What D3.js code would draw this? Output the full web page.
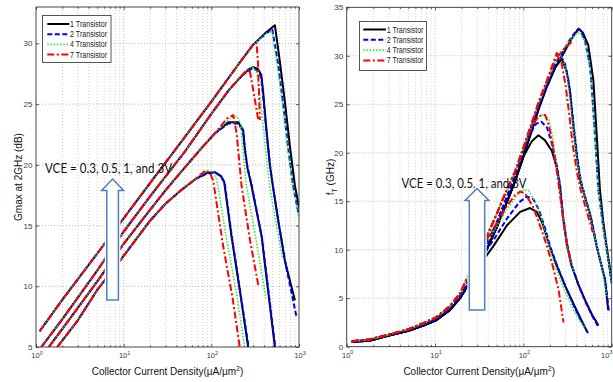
<!DOCTYPE html>
<html><head><meta charset="utf-8">
<script src="https://cdn.jsdelivr.net/npm/d3@7"></script>
<style>body{margin:0;background:#fff}svg{display:block}</style>
</head><body>
<svg id="c" width="613" height="382"></svg>
<script>
// ---------------- DATA ----------------
const transistors = ["1 Transistor","2 Transistor","4 Transistor","7 Transistor"];
const vceLevels = ["0.3","0.5","1","3"];
const xTicks = [1,10,100,1000];
const gmaxTicks = [5,10,15,20,25,30];
const ftTicks = [0,5,10,15,20,25,30,35];

// Gmax at 2GHz (dB) vs J (uA/um^2): shared rising part per VCE, then tail per transistor count
const gmaxRiseA = [[1.75,5.0],[3,7.2],[5,9.7],[10,12.5],[20,15.4],[30,16.8],[45,17.9],[65,18.8]];
const gmaxA1 = [[90,19.35],[110,19.4],[128,19.1],[140,18.6],[170,14.1],[211,9.7],[263,5.0],[272,4.4]];
const gmaxA2 = [[90,19.3],[112,19.35],[130,19.0],[142,18.5],[172,14.0],[213,9.6],[266,5.0],[275,4.4]];
const gmaxA4 = [[88,19.5],[105,19.45],[116,18.7],[150,13.8],[195,9.3],[240,5.0],[248,4.4]];
const gmaxA7 = [[86,19.55],[97,19.3],[105,18.7],[135,13.5],[175,9.0],[211,5.0],[218,4.4]];

const gmaxRiseB = [[1.4,5.0],[2,6.5],[5,10.4],[10,13.5],[20,16.3],[30,17.9],[50,19.8],[80,21.5],[110,22.6]];
const gmaxB1 = [[156,23.5],[203,23.5],[231,22.85],[241,21.3],[259,19.7],[285,18.4],[375,14.1],[443,9.7],[531,5.0],[548,4.4]];
const gmaxB2 = [[156,23.4],[200,23.4],[228,22.9],[240,21.5],[258,19.8],[287,18.4],[378,14.0],[448,9.6],[536,5.0],[552,4.4]];
const gmaxB4 = [[160,23.8],[195,24.0],[215,23.4],[228,21.5],[250,18.4],[330,13.5],[420,9.0]];
const gmaxB7 = [[150,23.8],[178,24.1],[195,22.5],[221,18.3],[276,13.8],[343,10.1]];

const gmaxRiseC = [[1.15,5.0],[2,7.3],[5,11.3],[10,14.5],[20,17.4],[50,21.1],[100,24.2],[160,26.2],[220,27.3]];
const gmaxC1 = [[270,27.9],[300,28.05],[340,27.9],[372,27.4],[390,26.0],[428,22.7],[465,20.0],[500,18.4],[580,15.4],[690,12.1],[898,8.85]];
const gmaxC2 = [[270,27.8],[300,27.95],[345,27.7],[370,27.2],[390,25.6],[430,22.4],[470,19.8],[505,18.2],[590,15.1],[710,11.7],[935,7.5]];
const gmaxC4 = [[265,27.9],[290,28.1],[330,27.6],[360,25.5],[400,22.5],[440,19.5],[480,17.5],[560,14.8],[650,12.3]];
const gmaxC7 = [[250,27.8],[272,27.9],[300,26.2],[343,23.7]];

const gmaxRiseD = [[1.1,6.3],[2,8.9],[5,12.7],[10,15.6],[20,18.5],[50,22.3],[100,25.2],[200,28.2],[300,29.9]];
const gmaxD1 = [[420,30.9],[531,31.5],[605,28.5],[690,25.2],[786,21.6],[898,18.3],[1000,16.5]];
const gmaxD2 = [[420,30.8],[495,31.2],[578,28.3],[660,25.0],[750,21.5],[855,18.3],[1000,15.8]];
const gmaxD4 = [[420,30.8],[490,31.0],[570,28.0],[650,25.0],[740,21.5],[845,18.3],[1000,15.6]];
const gmaxD7 = [[328,30.0],[340,28.5],[358,23.7]];

// fT (GHz): low-current part (all VCE overlap), then upper part per VCE / transistor count
const ftLowBlack = [[1.14,0.5],[1.8,0.62],[3,1.15],[5,1.65],[7.5,2.2],[10.4,2.75],[14.8,3.8],[19.2,5.0],[23.8,6.4]];
const ftLowBlue  = [[1.14,0.52],[1.8,0.7],[3,1.2],[5,1.72],[7.5,2.3],[10.4,2.9],[14.8,4.0],[19.2,5.2],[23.8,6.8]];
const ftLowColor = [[1.14,0.55],[1.8,0.75],[3,1.25],[5,1.8],[7.5,2.45],[10.4,3.05],[14.8,4.2],[19.2,5.5],[23.8,7.3]];

const ftA1 = [[35,8.9],[46,10.4],[65,12.5],[92,13.9],[119,14.3],[142,13.9],[165,12.7],[200,10.2],[240,8.3],[300,6.2],[370,4.4],[450,2.8],[530,1.5]];
const ftA2 = [[35,9.5],[46,11.0],[65,13.2],[90,14.9],[110,15.5],[130,15.2],[150,14.1],[175,12.3],[200,10.4],[240,8.4],[300,6.2],[370,4.3],[450,2.7],[540,1.4]];
const ftA4 = [[35,10.2],[46,11.8],[65,14.2],[85,15.6],[100,16.2],[115,16.1],[135,15.0],[160,13.2],[190,10.8],[230,8.2],[290,5.9],[360,4.0],[430,2.7],[500,1.9]];
const ftA7 = [[35,10.5],[46,12.2],[65,14.5],[80,15.6],[92,16.0],[105,15.8],[129,14.4],[150,12.8],[170,11.4],[210,8.7],[250,5.9],[285,2.5]];

const ftBundleBlack = [[35,9.2],[50,12.3],[65,14.9],[80,17.0],[100,19.6]];
const ftBundleBlue  = [[35,9.8],[50,12.8],[65,15.4],[80,17.6],[100,20.2]];
const ftBundleColor = [[35,10.5],[50,13.7],[65,16.2],[80,18.0],[100,20.5]];

const ftB1 = [[125,21.2],[148,21.8],[175,21.3],[210,20.2],[240,18.4],[260,16.5],[282,13.2],[310,10.6],[353,8.3],[420,6.4],[500,4.8],[600,3.3],[707,2.2]];
const ftB2 = [[120,22.0],[140,23.0],[160,23.2],[185,22.6],[210,21.0],[240,18.6],[260,16.7],[282,13.4],[310,10.8],[353,8.4],[420,6.4],[500,4.7],[600,3.2],[700,2.1]];
const ftB4 = [[125,22.8],[150,23.7],[175,24.0],[195,23.4],[215,21.6],[240,18.5],[262,15.6],[290,12.2],[320,10.0],[380,7.5]];
const ftB7 = [[125,22.8],[150,23.8],[176,23.9],[195,22.8],[215,20.8],[240,18.0],[262,15.4],[290,12.3],[320,10.0],[350,8.3]];

const ftC1 = [[150,24.6],[184,26.8],[230,28.8],[272,29.7],[309,28.4],[338,26.3],[366,22.9],[401,19.8],[440,17.2],[500,15.4],[570,13.6],[677,10.3],[840,6.9],[912,3.8]];
const ftC2 = [[150,24.9],[184,27.0],[230,29.1],[262,30.0],[292,29.4],[322,27.6],[348,25.2],[375,22.4],[410,19.4],[450,17.0],[510,15.2],[580,13.4],[690,10.1],[850,6.7],[930,3.6]];
const ftC4 = [[150,25.2],[184,27.3],[230,29.5],[255,30.3],[285,29.6],[315,27.6],[345,24.6],[380,21.2],[420,18.4],[470,16.4],[540,14.3],[640,11.4],[780,8.0],[880,5.2]];
const ftC7 = [[150,25.3],[184,27.4],[239,30.3],[270,29.3],[300,27.0],[330,24.0],[360,21.0],[400,18.2],[450,16.0],[520,14.0],[610,11.8]];

const ftD1 = [[150,24.6],[184,26.8],[230,28.8],[272,29.9],[338,31.5],[420,32.8],[470,32.4],[543,31.1],[620,27.5],[675,22.0],[735,16.2],[800,13.0],[877,10.3],[1000,6.9]];
const ftD2 = [[150,24.9],[184,27.0],[230,29.1],[280,30.4],[338,31.7],[400,32.6],[440,32.7],[500,31.5],[570,28.9],[620,24.4],[707,16.2],[800,12.4],[877,10.0],[1000,6.5]];
const ftD4 = [[150,25.2],[184,27.3],[230,29.5],[280,30.6],[338,31.6],[400,32.3],[440,32.4],[500,31.3],[570,28.7],[620,24.2],[707,16.2],[800,12.3],[877,10.0],[1000,6.5]];
const ftD7 = [[150,25.3],[184,27.4],[230,29.6],[280,30.6],[330,31.2],[366,31.5]];

// ---------------- ASSEMBLY ----------------
const gmaxSeries = [
  [gmaxRiseA.concat(gmaxA1), gmaxRiseB.concat(gmaxB1), gmaxRiseC.concat(gmaxC1), gmaxRiseD.concat(gmaxD1)],
  [gmaxRiseA.concat(gmaxA2), gmaxRiseB.concat(gmaxB2), gmaxRiseC.concat(gmaxC2), gmaxRiseD.concat(gmaxD2)],
  [gmaxRiseA.concat(gmaxA4), gmaxRiseB.concat(gmaxB4), gmaxRiseC.concat(gmaxC4), gmaxRiseD.concat(gmaxD4)],
  [gmaxRiseA.concat(gmaxA7), gmaxRiseB.concat(gmaxB7), gmaxRiseC.concat(gmaxC7), gmaxRiseD.concat(gmaxD7)]
];
const ftSeries = [
  [ftLowBlack.concat(ftA1), ftLowBlack.concat(ftBundleBlack, ftB1), ftLowBlack.concat(ftBundleBlack, ftC1), ftLowBlack.concat(ftBundleBlack, ftD1)],
  [ftLowBlue.concat(ftA2),  ftLowBlue.concat(ftBundleBlue, ftB2),   ftLowBlue.concat(ftBundleBlue, ftC2),   ftLowBlue.concat(ftBundleBlue, ftD2)],
  [ftLowColor.concat(ftA4), ftLowColor.concat(ftBundleColor, ftB4), ftLowColor.concat(ftBundleColor, ftC4), ftLowColor.concat(ftBundleColor, ftD4)],
  [ftLowColor.concat(ftA7), ftLowColor.concat(ftBundleColor, ftB7), ftLowColor.concat(ftBundleColor, ftC7), ftLowColor.concat(ftBundleColor, ftD7)]
];

// ---------------- STYLE ----------------
const colors = ["#000000","#0000ff","#22ee22","#ff0000"];
const dashes = [null,"5,2.5","1.4,1.8","7,2.5,2,2.5"];
const widths = [2,2,1.6,2];
const tickFont = "'Liberation Sans Narrow','Liberation Sans',Arial,sans-serif";
const labFont = "'Liberation Sans',Arial,sans-serif";

const svg = d3.select('#c');

function drawPanel(o){
  const x = d3.scaleLog().domain([1,1000]).range([o.x0,o.x1]);
  const y = d3.scaleLinear().domain(o.yDom).range([o.y1,o.y0]);
  const g = svg.append('g');
  svg.append('clipPath').attr('id',o.id).append('rect')
    .attr('x',o.x0).attr('y',o.y0).attr('width',o.x1-o.x0).attr('height',o.y1-o.y0);
  g.append('rect').attr('x',o.x0).attr('y',o.y0).attr('width',o.x1-o.x0).attr('height',o.y1-o.y0).attr('fill','#fff');
  // grid
  const gx = x.ticks().filter(v=>v>1 && v<1000);
  g.selectAll(null).data(gx).join('line')
    .attr('x1',d=>x(d)).attr('x2',d=>x(d)).attr('y1',o.y0).attr('y2',o.y1)
    .attr('stroke',d=>xTicks.includes(d)?'#a8a8a8':'#c4c4c4').attr('stroke-width',0.8).attr('stroke-dasharray','1,2');
  g.selectAll(null).data(o.ticks.filter(v=>v>o.yDom[0] && v<o.yDom[1])).join('line')
    .attr('x1',o.x0).attr('x2',o.x1).attr('y1',d=>y(d)).attr('y2',d=>y(d))
    .attr('stroke','#a8a8a8').attr('stroke-width',0.8).attr('stroke-dasharray','1,2');
  // axes ticks (inside) on all sides
  const ax = g.append('g');
  ax.append('g').attr('transform',`translate(${o.x0},0)`).call(d3.axisLeft(y).tickValues(o.ticks).tickSize(-3).tickFormat(''));
  ax.append('g').attr('transform',`translate(${o.x1},0)`).call(d3.axisRight(y).tickValues(o.ticks).tickSize(-3).tickFormat(''));
  ax.append('g').attr('transform',`translate(0,${o.y1})`).call(d3.axisBottom(x).tickValues(xTicks).tickSize(-3).tickFormat(''));
  ax.append('g').attr('transform',`translate(0,${o.y0})`).call(d3.axisTop(x).tickValues(xTicks).tickSize(-3).tickFormat(''));
  ax.append('g').attr('transform',`translate(0,${o.y1})`).call(d3.axisBottom(x).tickValues(gx.filter(v=>!xTicks.includes(v))).tickSize(-1.8).tickFormat(''));
  ax.append('g').attr('transform',`translate(0,${o.y0})`).call(d3.axisTop(x).tickValues(gx.filter(v=>!xTicks.includes(v))).tickSize(-1.8).tickFormat(''));
  ax.selectAll('.domain').remove();
  ax.selectAll('line').attr('stroke','#333').attr('stroke-width',0.8);
  // curves
  const line = d3.line().x(d=>x(d[0])).y(d=>y(d[1]));
  const cg = g.append('g').attr('clip-path',`url(#${o.id})`);
  o.series.forEach((grp,t)=>{
    grp.forEach(pts=>{
      cg.append('path').attr('d',line(pts)).attr('fill','none')
        .attr('stroke',colors[t]).attr('stroke-width',widths[t])
        .attr('stroke-dasharray',dashes[t]).attr('stroke-linejoin','round');
    });
  });
  // box
  g.append('rect').attr('x',o.x0).attr('y',o.y0).attr('width',o.x1-o.x0).attr('height',o.y1-o.y0)
    .attr('fill','none').attr('stroke','#333').attr('stroke-width',0.9);
  // tick labels
  g.selectAll(null).data(o.ticks).join('text')
    .attr('x',o.x0-3.5).attr('y',d=>y(d)+3).attr('text-anchor','end')
    .attr('font-family',tickFont).attr('font-size',8).attr('fill','#3a3a3a').text(d=>d);
  xTicks.forEach(v=>{
    const last = (v===1000 && o.x1>600);
    const t = g.append('text').attr('x',last?612.5:x(v)+1).attr('y',o.y1+11)
      .attr('text-anchor',last?'end':'middle')
      .attr('font-family',tickFont).attr('font-size',7.5).attr('fill','#3a3a3a');
    t.append('tspan').text('10');
    t.append('tspan').attr('dy',-3.5).attr('font-size',5.5).text(String(Math.round(Math.log10(v))));
  });
  // x label
  const xl = g.append('text').attr('x',(o.x0+o.x1)/2).attr('y',375).attr('text-anchor','middle')
    .attr('font-family',labFont).attr('font-size',10).attr('fill','#111');
  xl.append('tspan').text('Collector Current Density(\u03bcA/\u03bcm');
  xl.append('tspan').attr('dy',-4).attr('font-size',7).text('2');
  xl.append('tspan').attr('dy',4).text(')');
  // legend
  const L = o.legend;
  g.append('rect').attr('x',L.x).attr('y',L.y).attr('width',L.w).attr('height',L.h)
    .attr('fill','#fff').attr('stroke','#444').attr('stroke-width',0.9);
  transistors.forEach((name,i)=>{
    const yy = L.y + L.r0 + i*L.dr;
    g.append('line').attr('x1',L.lx0).attr('x2',L.lx1).attr('y1',yy).attr('y2',yy)
      .attr('stroke',colors[i]).attr('stroke-width',widths[i]).attr('stroke-dasharray',dashes[i]);
    g.append('text').attr('x',L.lx1+0.8).attr('y',yy+3).attr('font-family',tickFont).attr('font-size',8.5)
      .attr('fill','#222').attr('textLength',L.tl).attr('lengthAdjust','spacingAndGlyphs').text(name);
  });
  // annotation text
  g.append('text').attr('x',o.note.x).attr('y',o.note.y).attr('font-family',"Lato,'Open Sans',sans-serif")
    .attr('font-size',14).attr('fill','#111').attr('textLength',o.note.len).attr('lengthAdjust','spacingAndGlyphs')
    .text(`VCE = ${vceLevels[0]}, ${vceLevels[1]}, ${vceLevels[2]}, and ${vceLevels[3]}V`);
  // arrow
  const A = o.arrow;
  const pts = [[A.cx,A.tip],[A.cx+A.hw,A.base],[A.cx+A.sw,A.base],[A.cx+A.sw,A.bot],[A.cx-A.sw,A.bot],[A.cx-A.sw,A.base],[A.cx-A.hw,A.base]];
  const ap = 'M'+pts.map(p=>p.join(',')).join('L')+'Z';
  g.append('path').attr('d',ap).attr('fill','#fff').attr('stroke','#fff').attr('stroke-width',4).attr('stroke-linejoin','miter');
  g.append('path').attr('d',ap).attr('fill','#fff').attr('stroke','#4f7fba').attr('stroke-width',1.5);
  return {x,y,g};
}

const left = drawPanel({
  id:'clipL', x0:36, x1:299, y0:7, y1:347, yDom:[5,33], ticks:gmaxTicks, series:gmaxSeries,
  legend:{x:42.5,y:15.5,w:68.5,h:47,r0:8.5,dr:10.2,lx0:47.3,lx1:69.3,tl:37},
  note:{x:45,y:173,len:127},
  arrow:{cx:112.6,tip:179,base:190.5,bot:300,hw:11,sw:5.8}
});
left.g.append('text').attr('transform','translate(22,177) rotate(-90)').attr('text-anchor','middle')
  .attr('font-family',labFont).attr('font-size',10).attr('fill','#111').text('Gmax at 2GHz (dB)');

const right = drawPanel({
  id:'clipR', x0:346.7, x1:611.7, y0:7.3, y1:346.7, yDom:[0,35], ticks:ftTicks, series:ftSeries,
  legend:{x:359.5,y:21.5,w:67,h:49,r0:8,dr:10.3,lx0:363.3,lx1:386,tl:36.6},
  note:{x:401.5,y:188,len:125},
  arrow:{cx:477,tip:188.5,base:200.5,bot:310,hw:12,sw:7.7}
});
const yr = right.g.append('text').attr('transform','translate(334,177) rotate(-90)').attr('text-anchor','middle')
  .attr('font-family',labFont).attr('font-size',10).attr('fill','#111');
yr.append('tspan').text('f');
yr.append('tspan').attr('dy',3).attr('font-size',7).text('T');
yr.append('tspan').attr('dy',-3).text(' (GHz)');
</script>
</body></html>
